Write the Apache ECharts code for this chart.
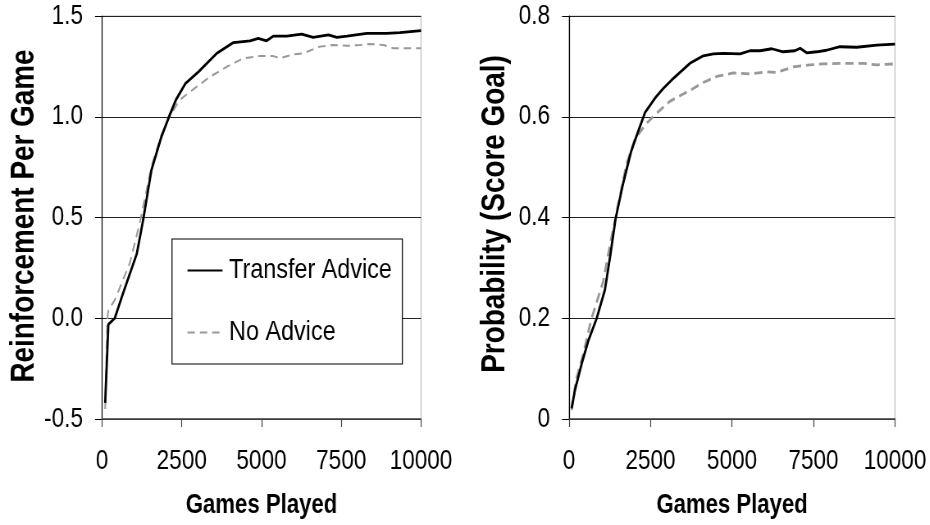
<!DOCTYPE html>
<html>
<head>
<meta charset="utf-8">
<script src="https://cdn.jsdelivr.net/npm/echarts@6/dist/echarts.min.js"></script>
<style>
  html, body { margin: 0; padding: 0; background: #fff; overflow: hidden; width: 930px; height: 525px; }
  /* the reference uses a narrow (Arial Narrow-like) face: emulate it by condensing the whole drawing horizontally */
  #chart { width: 1134px; height: 525px; transform: scaleX(0.82); transform-origin: 0 0; }
</style>
</head>
<body>
<div id="chart"></div>
<script>
// ---- data ----
var seriesNames = ['Transfer Advice', 'No Advice'];
var xTicks = [0, 2500, 5000, 7500, 10000];
var leftYTicks = ['-0.5', '0.0', '0.5', '1.0', '1.5'];
var rightYTicks = ['0', '0.2', '0.4', '0.6', '0.8'];
var xTitle = 'Games Played';
var leftYTitle = 'Reinforcement Per Game';
var rightYTitle = 'Probability (Score Goal)';

// Reinforcement per game: [games played, value]
var leftTransfer = [
  [100,-0.42],[200,-0.03],[400,0.0],[660,0.124],[1090,0.32],[1290,0.488],[1550,0.736],
  [1850,0.895],[2100,1.0],[2320,1.085],[2620,1.166],[3030,1.224],[3600,1.315],[4120,1.368],
  [4640,1.377],[4900,1.389],[5160,1.377],[5370,1.40],[5790,1.40],[6260,1.41],[6620,1.394],
  [7100,1.406],[7360,1.394],[7680,1.40],[8300,1.414],[8920,1.414],[9340,1.417],[10000,1.427]
];
var leftNoAdvice = [
  [100,-0.45],[170,0.0],[200,0.04],[400,0.09],[870,0.273],[1180,0.471],[1550,0.752],
  [1860,0.91],[2120,1.0],[2430,1.083],[2900,1.141],[3390,1.199],[3910,1.248],[4430,1.29],
  [4950,1.301],[5370,1.301],[5580,1.29],[6000,1.31],[6310,1.315],[6830,1.348],[7250,1.356],
  [7680,1.352],[8100,1.356],[8400,1.361],[8830,1.356],[9130,1.34],[9550,1.34],[10000,1.34]
];

// Probability (score goal): [games played, value]
var rightTransfer = [
  [80,0.021],[185,0.058],[390,0.11],[590,0.155],[850,0.2],[1100,0.256],[1260,0.322],
  [1430,0.398],[1650,0.465],[1900,0.53],[2100,0.567],[2330,0.608],[2640,0.637],[2890,0.656],
  [3150,0.673],[3710,0.706],[4120,0.721],[4430,0.725],[4730,0.726],[5250,0.725],[5550,0.731],
  [5860,0.731],[6220,0.735],[6570,0.729],[6930,0.731],[7090,0.736],[7290,0.727],[7600,0.729],
  [7900,0.732],[8310,0.739],[8830,0.738],[9440,0.742],[10000,0.744]
];
var rightNoAdvice = [
  [80,0.018],[215,0.077],[440,0.13],[680,0.197],[1050,0.273],[1260,0.347],[1460,0.41],
  [1760,0.505],[2020,0.556],[2380,0.587],[2690,0.607],[3100,0.631],[3500,0.645],[3810,0.656],
  [4120,0.668],[4530,0.68],[5040,0.687],[5550,0.685],[6060,0.689],[6370,0.688],[6880,0.699],
  [7390,0.703],[7800,0.705],[8410,0.706],[9030,0.706],[9440,0.703],[10000,0.705]
];

// ---- chart ----
var S = 0.82;                       // horizontal condensing factor (see CSS)
function hx(v) { return v / S; }    // convert on-screen horizontal px to drawing px
var FONT = "'Liberation Sans', Arial, Helvetica, sans-serif";
var chart = echarts.init(document.getElementById('chart'), null, { renderer: 'canvas' });

function xAxisDef(gridIndex) {
  return {
    type: 'value', gridIndex: gridIndex, min: 0, max: 10000, interval: 2500,
    name: xTitle, nameLocation: 'middle', nameGap: 73,
    nameTextStyle: { fontFamily: FONT, fontSize: 27, fontWeight: 'bold', color: '#000' },
    axisLine: { show: true, onZero: false, lineStyle: { color: '#444', width: 1.5 } },
    axisTick: { show: true, length: 8, lineStyle: { color: '#444', width: 1.2 } },
    axisLabel: { fontFamily: FONT, fontSize: 27.5, color: '#000', margin: 28,
      formatter: function (v) { return xTicks.indexOf(v) >= 0 ? String(v) : ''; } },
    splitLine: { show: false }
  };
}
function yAxisDef(gridIndex, min, max, interval, labels) {
  return {
    type: 'value', gridIndex: gridIndex, min: min, max: max, interval: interval,
    axisLine: { show: true, lineStyle: { color: '#000', width: 1.2 } },
    axisTick: { show: true, length: hx(7), lineStyle: { color: '#000' } },
    axisLabel: { fontFamily: FONT, fontSize: 27.5, color: '#000', margin: hx(19),
      formatter: function (v) {
        var i = Math.round((v - min) / interval);
        return labels[i] !== undefined ? labels[i] : '';
      } },
    splitLine: { show: true, lineStyle: { color: '#222', width: 1 } }
  };
}
function yTitle(text, cx, cy) {
  return {
    type: 'text', x: hx(cx), y: cy, rotation: Math.PI / 2,
    scaleX: S, scaleY: 1 / S, silent: true,
    style: { text: text, fontFamily: FONT, fontSize: 34, fontWeight: 'bold', fill: '#000',
      align: 'center', verticalAlign: 'middle' }
  };
}

var option = {
  backgroundColor: '#fff',
  animation: false,
  grid: [
    { left: hx(102), top: 16, width: hx(319), height: 403, show: true, borderColor: '#bbb', borderWidth: 1.2, backgroundColor: 'transparent' },
    { left: hx(569), top: 16, width: hx(326), height: 403, show: true, borderColor: '#bbb', borderWidth: 1.2, backgroundColor: 'transparent' }
  ],
  xAxis: [xAxisDef(0), xAxisDef(1)],
  yAxis: [
    yAxisDef(0, -0.5, 1.5, 0.5, leftYTicks),
    yAxisDef(1, 0, 0.8, 0.2, rightYTicks)
  ],
  graphic: [
    yTitle(leftYTitle, 24.5, 216),
    yTitle(rightYTitle, 495, 214)
  ],
  legend: {
    show: true, orient: 'vertical', left: hx(172), top: 239,
    padding: [17, hx(10.5), 17, hx(14.7)], itemGap: 33, itemWidth: hx(35), itemHeight: 30,
    backgroundColor: '#fff', borderColor: '#000', borderWidth: 1.2,
    itemStyle: { opacity: 0 },
    textStyle: { fontFamily: FONT, fontSize: 28.5, color: '#000', padding: [0, 0, 0, 3] },
    data: seriesNames
  },
  series: [
    { name: seriesNames[0], type: 'line', xAxisIndex: 0, yAxisIndex: 0, data: leftTransfer,
      showSymbol: false, symbol: 'none', z: 3, lineStyle: { color: '#000', width: 2.8 }, itemStyle: { color: '#000' } },
    { name: seriesNames[1], type: 'line', xAxisIndex: 0, yAxisIndex: 0, data: leftNoAdvice,
      showSymbol: false, symbol: 'none', z: 2, lineStyle: { color: '#999', width: 2, type: [9, 6] }, itemStyle: { color: '#999' } },
    { name: seriesNames[0], type: 'line', xAxisIndex: 1, yAxisIndex: 1, data: rightTransfer,
      showSymbol: false, symbol: 'none', z: 3, lineStyle: { color: '#000', width: 2.8 }, itemStyle: { color: '#000' } },
    { name: seriesNames[1], type: 'line', xAxisIndex: 1, yAxisIndex: 1, data: rightNoAdvice,
      showSymbol: false, symbol: 'none', z: 2, lineStyle: { color: '#999', width: 2.8, type: [10, 6] }, itemStyle: { color: '#999' } }
  ]
};
chart.setOption(option);
</script>
</body>
</html>
